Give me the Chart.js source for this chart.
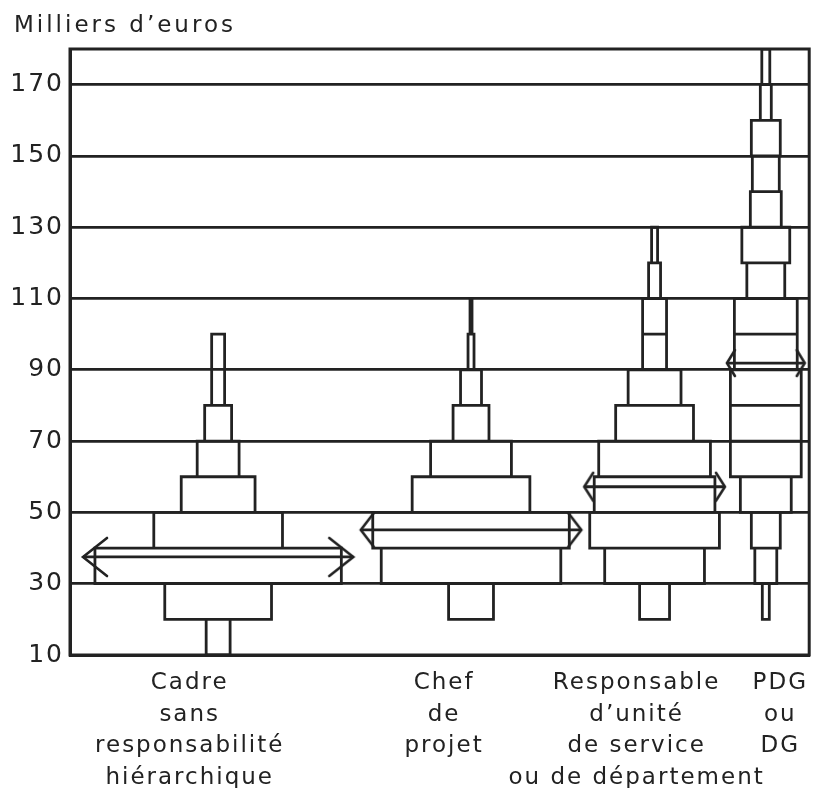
<!DOCTYPE html>
<html><head><meta charset="utf-8">
<script src="https://cdn.jsdelivr.net/npm/chart.js@4"></script>
<style>html,body{margin:0;padding:0;background:#fff}#wrap{width:814px;height:788px;position:relative}</style>
</head><body><div id="wrap"><canvas id="c"></canvas></div>
<script>
// ---------- DATA ----------
const yTicks = [10, 30, 50, 70, 90, 110, 130, 150, 170];
const categories = [
  ["Cadre", "sans", "responsabilité", "hiérarchique"],
  ["Chef", "de", "projet"],
  ["Responsable", "d’unité", "de service", "ou de département"],
  ["PDG", "ou", "DG"]
];
const cadreLow   = [10, 20, 30, 40, 50, 60, 70, 80];
const cadreHigh  = [20, 30, 40, 50, 60, 70, 80, 100];
const cadreWidth = [24, 107, 247, 129, 74, 42, 27, 13];

const chefLow   = [20, 30, 40, 50, 60, 70, 80, 90, 100];
const chefHigh  = [30, 40, 50, 60, 70, 80, 90, 100, 110];
const chefWidth = [45, 180, 197, 118, 81, 36, 21, 6, 2];

const respLow   = [20, 30, 40, 50, 60, 70, 80, 90, 100, 110, 120];
const respHigh  = [30, 40, 50, 60, 70, 80, 90, 100, 110, 120, 130];
const respWidth = [30, 100, 130, 121, 112, 78, 53, 24, 24, 12, 6];

const pdgLow   = [20, 30, 40, 50, 60, 70, 80, 90, 100, 110, 120, 130, 140, 150, 160, 170];
const pdgHigh  = [30, 40, 50, 60, 70, 80, 90, 100, 110, 120, 130, 140, 150, 160, 170, 180];
const pdgWidth = [7, 22, 29, 51, 71, 71, 71, 63, 63, 38, 48, 31, 27, 29, 11, 8];

const medians = [37.5, 45.1, 57.2, 91.9];

// ---------- LAYOUT / STYLE ----------
const INK = '#222222';
const X_RANGE = 741;
const barCenters = [148.5, 402, 586, 697.5];
const labelCenters = [120, 375, 568, 712];
const arrowExt = [12, 12, 10, 7.5];
const arrowHead = [[24, 38], [13, 34], [9, 28], [8, 26]];

const groups = [
  [cadreLow, cadreHigh, cadreWidth],
  [chefLow, chefHigh, chefWidth],
  [respLow, respHigh, respWidth],
  [pdgLow, pdgHigh, pdgWidth]
];

function rectOutline(c, lows, highs, widths) {
  const pts = [];
  lows.forEach((lo, i) => {
    const hi = highs[i], h = widths[i] / 2;
    pts.push({x: c - h, y: lo}, {x: c + h, y: lo}, {x: c + h, y: hi}, {x: c - h, y: hi}, {x: c - h, y: lo});
    pts.push({x: c, y: null});
  });
  return pts;
}

function chevron(dir, w, h) {
  const cv = document.createElement('canvas');
  cv.width = 2 * w + 6; cv.height = h + 6;
  const g = cv.getContext('2d');
  const cx = w + 3, cy = (h + 6) / 2;
  g.strokeStyle = INK; g.lineWidth = 2.6; g.lineCap = 'round'; g.lineJoin = 'miter';
  g.beginPath();
  g.moveTo(cx + dir * w, cy - h / 2); g.lineTo(cx, cy); g.lineTo(cx + dir * w, cy + h / 2);
  g.stroke();
  return cv;
}

const datasets = [];
groups.forEach((g, k) => {
  datasets.push({
    data: rectOutline(barCenters[k], g[0], g[1], g[2]),
    borderColor: INK, borderWidth: 2.8, pointRadius: 0,
    borderCapStyle: 'square', borderJoinStyle: 'miter', tension: 0, fill: false
  });
});
groups.forEach((g, k) => {
  const m = medians[k];
  let idx = g[0].findIndex((lo, i) => m >= lo && m < g[1][i]);
  const half = g[2][idx] / 2 + arrowExt[k];
  const left = chevron(1, arrowHead[k][0], arrowHead[k][1]);
  const right = chevron(-1, arrowHead[k][0], arrowHead[k][1]);
  datasets.push({
    data: [{x: barCenters[k] - half, y: m}, {x: barCenters[k] + half, y: m}],
    borderColor: INK, borderWidth: 2.8, tension: 0, fill: false,
    pointRadius: 2, pointHoverRadius: 2,
    pointStyle: (ctx) => ctx.dataIndex === 0 ? left : right
  });
});

const spacingPlugin = {
  id: 'spacing',
  beforeLayout(chart) { chart.ctx.letterSpacing = '2px'; },
  beforeDraw(chart) { chart.ctx.letterSpacing = '2px'; },
  beforeDatasetsDraw(chart) {
    const {ctx, chartArea: a} = chart;
    ctx.save();
    ctx.strokeStyle = INK; ctx.lineWidth = 3;
    ctx.strokeRect(a.left, a.top, a.right - a.left, a.bottom - a.top);
    ctx.restore();
  },
  afterDraw(chart) {
    const ctx = chart.ctx;
    ctx.save();
    ctx.letterSpacing = '3px';
    ctx.fillStyle = INK;
    ctx.font = '23px "DejaVu Sans"';
    ctx.textBaseline = 'middle';
    ctx.textAlign = 'left';
    ctx.fillText('Milliers d’euros', 14, 26);
    ctx.restore();
  }
};

new Chart(document.getElementById('c'), {
  type: 'line',
  data: {datasets},
  plugins: [spacingPlugin],
  options: {
    responsive: true, maintainAspectRatio: false, animation: false,
    layout: {padding: {top: 49, right: 3, left: 0, bottom: 0}},
    plugins: {legend: {display: false}, tooltip: {enabled: false}, title: {display: false}},
    scales: {
      x: {
        type: 'linear', min: 0, max: X_RANGE,
        grid: {display: false, drawTicks: false},
        border: {display: true, color: INK, width: 3},
        afterBuildTicks: (s) => { s.ticks = labelCenters.map(v => ({value: v})); },
        afterFit: (s) => { s.height = 133; s.paddingLeft = 0; s.paddingRight = 0; },
        ticks: {
          autoSkip: false, maxRotation: 0, minRotation: 0, padding: 12,
          color: INK, font: {family: 'DejaVu Sans', size: 23, lineHeight: 1.38},
          callback: (v, i) => categories[i]
        }
      },
      y: {
        type: 'linear', min: 10, max: 180,
        grid: {display: true, color: INK, lineWidth: 2.8, drawTicks: false},
        border: {display: true, color: INK, width: 3},
        afterBuildTicks: (s) => { s.ticks = yTicks.map(v => ({value: v})); },
        afterFit: (s) => { s.width = 70; },
        ticks: {
          padding: 6, color: INK,
          font: {family: 'DejaVu Sans', size: 25},
          callback: (v) => String(v)
        }
      }
    }
  }
});
</script>
</body></html>
